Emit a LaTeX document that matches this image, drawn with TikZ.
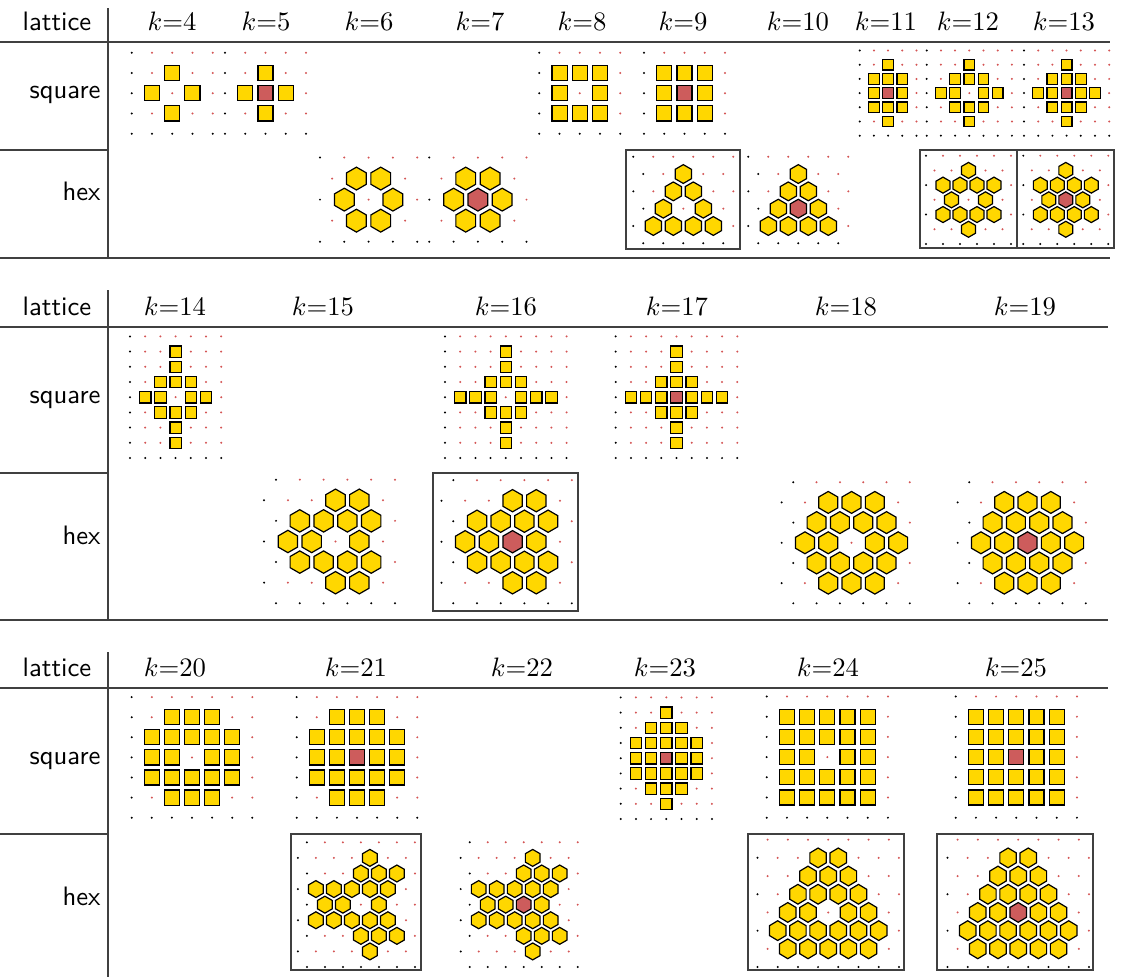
\documentclass[tikz,border=0pt]{standalone}
\usepackage{tikz}
\usetikzlibrary{positioning}

\definecolor{cellgold}{RGB}{255,215,0}
\definecolor{cellred}{RGB}{205,92,92}
\definecolor{dotred}{RGB}{212,85,85}

\tikzset{
  cellline/.style={draw=black, line width=0.45pt},
  rule/.style={line width=0.45pt, black!75},
  framebox/.style={draw=black!75, line width=0.55pt},
  lbl/.style={font=\sffamily, inner sep=0pt},
  klbl/.style={inner sep=0pt, anchor=base}
}

% one cell: origin (first dot of the bottom row) and dot spacing, in px
\newcommand{\cellat}[4][1]{\pgfmathsetmacro\cu{#4*0.375}\pgfmathsetmacro\cv{#1*#4*0.375}\begin{scope}[shift={(#2,#3)},x=\cu pt,y=\cv pt]}
\newcommand{\closecell}{\end{scope}}

% square lattice points, black on the axes
\newcommand{\sqdots}[2]{%
  \foreach \i in {0,...,#1}{\foreach \j in {0,...,#2}{%
    \ifnum\numexpr\i*\j\relax=0 \def\dc{black}\else\def\dc{dotred}\fi
    \fill[\dc] (\i,\j) circle[radius=0.42pt];}}}

% hex lattice points: xmin, xmax, top row, shift of odd rows
\newcommand{\hexdots}[4]{%
  \foreach \j in {0,...,#3}{%
    \pgfmathsetmacro\off{mod(\j,2)*(#4)}%
    \foreach \i in {-1,...,8}{%
      \pgfmathsetmacro\xx{\i+\off}%
      \pgfmathtruncatemacro\ok{and(\xx>#1-0.01,\xx<#2+0.01)}%
      \ifnum\ok=1
        \pgfmathtruncatemacro\blk{or(\j==0,\xx<0.1)}%
        \ifnum\blk=1 \def\dc{black}\else\def\dc{dotred}\fi
        \fill[\dc] (\xx,\j*0.866) circle[radius=0.42pt];
      \fi}}}

\newcommand{\sq}[3][cellgold]{\draw[cellline,fill=#1] (#2,#3) +(-0.375,-0.375) rectangle +(0.375,0.375);}
\newcommand{\hx}[3][cellgold]{\draw[cellline,fill=#1] (#2,#3*0.866) +(90:0.47) -- +(150:0.47) -- +(210:0.47) -- +(270:0.47) -- +(330:0.47) -- +(30:0.47) -- cycle;}

\begin{document}
\begin{tikzpicture}[x=0.375pt, y=-0.375pt]
\useasboundingbox (0,0) rectangle (1122,977);

% table rules
\draw[rule] (108,8) -- (108,258) (0,42) -- (1110,42) (0,150) -- (108,150) (0,258) -- (1110,258);
\draw[rule] (108,290) -- (108,620) (0,327) -- (1108,327) (0,473) -- (108,473) (0,620) -- (1108,620);
\draw[rule] (108,652) -- (108,977) (0,688) -- (1108,688) (0,834) -- (108,834);

% headers
\node[klbl, lbl] (lat1) at (57,30) {lattice};
\node[klbl, lbl] (lat2) at (57,315) {lattice};
\node[klbl, lbl] (lat3) at (57,676) {lattice};
\foreach \x/\k in {172/4, 266/5, 369/6, 480/7, 582/8, 683/9, 798/10, 886/11, 968/12, 1064/13}
  \node[klbl] (k\k) at (\x,30) {$k{=}\k$};
\foreach \x/\k in {175/14, 323/15, 506/16, 677/17, 846/18, 1025/19}
  \node[klbl] (k\k) at (\x,315) {$k{=}\k$};
\foreach \x/\k in {175/20, 356/21, 522/22, 665/23, 828/24, 1016/25}
  \node[klbl] (k\k) at (\x,676) {$k{=}\k$};
\foreach \y/\b in {98/1, 403/2, 764/3}
  \node[lbl, anchor=base east] (sq\b) at (101,\y) {square};
\foreach \y/\b in {200/1, 544/2, 905/3}
  \node[lbl, anchor=base east] (hex\b) at (101,\y) {hex};

% boxed cells
\draw[framebox] (626,150) rectangle (740,249) (920,150) rectangle (1017,248) (1017,150) rectangle (1114,248);
\draw[framebox] (433,473) rectangle (578,611);
\draw[framebox] (291,834) rectangle (421,970) (748,834) rectangle (904,970) (937,834) rectangle (1093,970);

%% block 1, square
\cellat{131.7}{133.7}{20.25} \sqdots{4}{4}
  \foreach \p/\q in {2/3,1/2,3/2,2/1} \sq{\p}{\q}; \closecell
\cellat{225}{133.7}{20.25} \sqdots{4}{4}
  \foreach \p/\q in {2/3,1/2,3/2,2/1} \sq{\p}{\q}; \sq[cellred]{2}{2} \closecell
\cellat{539.3}{133.7}{20.25} \sqdots{4}{4}
  \foreach \p/\q in {1/1,2/1,3/1,1/2,3/2,1/3,2/3,3/3} \sq{\p}{\q}; \closecell
\cellat{644}{133.7}{20.25} \sqdots{4}{4}
  \foreach \p/\q in {1/1,2/1,3/1,1/2,3/2,1/3,2/3,3/3} \sq{\p}{\q}; \sq[cellred]{2}{2} \closecell
\cellat{859.7}{135.7}{14.2} \sqdots{4}{6}
  \foreach \p/\q in {2/5,1/4,2/4,3/4,1/3,3/3,1/2,2/2,3/2,2/1} \sq{\p}{\q}; \sq[cellred]{2}{3} \closecell
\cellat{926.7}{135.7}{14.2} \sqdots{6}{6}
  \foreach \p/\q in {3/5,2/4,3/4,4/4,1/3,2/3,4/3,5/3,2/2,3/2,4/2,3/1} \sq{\p}{\q}; \closecell
\cellat{1024}{135.7}{14.2} \sqdots{6}{6}
  \foreach \p/\q in {3/5,2/4,3/4,4/4,1/3,2/3,4/3,5/3,2/2,3/2,4/2,3/1} \sq{\p}{\q}; \sq[cellred]{3}{3} \closecell

%% block 1, hex
\cellat{320}{241.7}{24.3} \hexdots{0}{4}{4}{0.5}
  \foreach \p/\q in {1/2,3/2,1.5/3,2.5/3,1.5/1,2.5/1} \hx{\p}{\q}; \closecell
\cellat{429.3}{241.7}{24.3} \hexdots{0}{4}{4}{0.5}
  \foreach \p/\q in {1/2,3/2,1.5/3,2.5/3,1.5/1,2.5/1} \hx{\p}{\q}; \hx[cellred]{2}{2} \closecell
\cellat{643.3}{243.3}{20} \hexdots{-0.5}{4.5}{5}{-0.5}
  \foreach \p/\q in {2/4,1.5/3,2.5/3,1/2,3/2,0.5/1,1.5/1,2.5/1,3.5/1} \hx{\p}{\q}; \closecell
\cellat{758.3}{243.3}{20} \hexdots{-0.5}{4.5}{5}{-0.5}
  \foreach \p/\q in {2/4,1.5/3,2.5/3,1/2,3/2,0.5/1,1.5/1,2.5/1,3.5/1} \hx{\p}{\q}; \hx[cellred]{2}{2} \closecell
\cellat{926}{244}{17} \hexdots{0}{5}{6}{0.5}
  \foreach \p/\q in {2.5/5,1/4,2/4,3/4,4/4,1.5/3,3.5/3,1/2,2/2,3/2,4/2,2.5/1} \hx{\p}{\q}; \closecell
\cellat{1023.3}{244}{17} \hexdots{0}{5}{6}{0.5}
  \foreach \p/\q in {2.5/5,1/4,2/4,3/4,4/4,1.5/3,3.5/3,1/2,2/2,3/2,4/2,2.5/1} \hx{\p}{\q}; \hx[cellred]{2.5}{3} \closecell

%% block 2, square
\cellat{130}{458}{15.2} \sqdots{6}{8}
  \foreach \p/\q in {3/7,3/6,2/5,3/5,4/5,1/4,2/4,4/4,5/4,2/3,3/3,4/3,3/2,3/1} \sq{\p}{\q}; \closecell
\cellat{445}{458}{15.2} \sqdots{8}{8}
  \foreach \p/\q in {4/7,4/6,3/5,4/5,5/5,1/4,2/4,3/4,5/4,6/4,7/4,3/3,4/3,5/3,4/2,4/1} \sq{\p}{\q}; \closecell
\cellat{615.7}{458}{15.2} \sqdots{8}{8}
  \foreach \p/\q in {4/7,4/6,3/5,4/5,5/5,1/4,2/4,3/4,5/4,6/4,7/4,3/3,4/3,5/3,4/2,4/1} \sq{\p}{\q}; \sq[cellred]{4}{4} \closecell

%% block 2, hex
\cellat{276}{603.3}{23.8} \hexdots{-0.5}{5}{6}{-0.5}
  \foreach \p/\q in {2.5/5,3.5/5,1/4,2/4,3/4,4/4,0.5/3,1.5/3,3.5/3,1/2,2/2,3/2,4/2,2.5/1,3.5/1} \hx{\p}{\q}; \closecell
\cellat{453.3}{603.3}{23.7} \hexdots{-0.5}{5}{6}{-0.5}
  \foreach \p/\q in {2.5/5,3.5/5,1/4,2/4,3/4,4/4,0.5/3,1.5/3,3.5/3,1/2,2/2,3/2,4/2,2.5/1,3.5/1} \hx{\p}{\q}; \hx[cellred]{2.5}{3} \closecell
\cellat{793.3}{603.3}{23.3} \hexdots{-0.5}{5}{6}{-0.5}
  \foreach \p/\q in {1.5/5,2.5/5,3.5/5,1/4,2/4,3/4,4/4,0.5/3,1.5/3,3.5/3,4.5/3,1/2,2/2,3/2,4/2,1.5/1,2.5/1,3.5/1} \hx{\p}{\q}; \closecell
\cellat{969.3}{603.3}{23.3} \hexdots{-0.5}{5}{6}{-0.5}
  \foreach \p/\q in {1.5/5,2.5/5,3.5/5,1/4,2/4,3/4,4/4,0.5/3,1.5/3,3.5/3,4.5/3,1/2,2/2,3/2,4/2,1.5/1,2.5/1,3.5/1} \hx{\p}{\q}; \hx[cellred]{2.5}{3} \closecell

%% block 3, square
\cellat{131.7}{817.7}{20.1} \sqdots{6}{6}
  \foreach \p/\q in {2/5,3/5,4/5,1/4,2/4,3/4,4/4,5/4,1/3,2/3,4/3,5/3,1/2,2/2,3/2,4/2,5/2,2/1,3/1,4/1} \sq{\p}{\q}; \closecell
\cellat{296.7}{817.7}{20.1} \sqdots{6}{6}
  \foreach \p/\q in {2/5,3/5,4/5,1/4,2/4,3/4,4/4,5/4,1/3,2/3,4/3,5/3,1/2,2/2,3/2,4/2,5/2,2/1,3/1,4/1} \sq{\p}{\q}; \sq[cellred]{3}{3} \closecell
\cellat{620.7}{819}{15.2} \sqdots{6}{8}
  \foreach \p/\q in {3/7,2/6,3/6,4/6,1/5,2/5,3/5,4/5,5/5,1/4,2/4,4/4,5/4,1/3,2/3,3/3,4/3,5/3,2/2,3/2,4/2,3/1} \sq{\p}{\q}; \sq[cellred]{3}{4} \closecell
\cellat{766.7}{817.7}{20.2} \sqdots{6}{6}
  \foreach \i in {1,...,5}{\foreach \j in {1,...,5}{\ifnum\i\j=33 \else\sq{\i}{\j}\fi}} \closecell
\cellat{955.7}{817.7}{20.2} \sqdots{6}{6}
  \foreach \i in {1,...,5}{\foreach \j in {1,...,5}{\ifnum\i\j=33 \else\sq{\i}{\j}\fi}} \sq[cellred]{3}{3} \closecell

%% block 3, hex
\cellat{306.9}{967}{18} \hexdots{-0.5}{6}{8}{-0.5}
  \foreach \p/\q in {3.5/7,3/6,4/6,5/6,0.5/5,1.5/5,2.5/5,3.5/5,4.5/5,1/4,2/4,4/4,0.5/3,1.5/3,2.5/3,3.5/3,4.5/3,3/2,4/2,5/2,3.5/1} \hx{\p}{\q}; \closecell
\cellat{469.7}{967}{18} \hexdots{-0.5}{6}{8}{-0.5}
  \foreach \p/\q in {3.5/7,3/6,4/6,5/6,0.5/5,1.5/5,2.5/5,3.5/5,4.5/5,1/4,2/4,4/4,0.5/3,1.5/3,2.5/3,3.5/3,4.5/3,3/2,4/2,5/2,3.5/1} \hx{\p}{\q}; \hx[cellred]{3}{4} \closecell
\cellat[1.04]{757.5}{967}{20.2} \hexdots{0}{7}{7}{0.5}
  \foreach \p/\q in {3/6,4/6,2.5/5,3.5/5,4.5/5,2/4,3/4,4/4,5/4,1.5/3,2.5/3,4.5/3,5.5/3,1/2,2/2,3/2,4/2,5/2,6/2,1.5/1,2.5/1,3.5/1,4.5/1,5.5/1} \hx{\p}{\q}; \closecell
\cellat[1.04]{947.5}{967}{20.2} \hexdots{0}{7}{7}{0.5}
  \foreach \p/\q in {3/6,4/6,2.5/5,3.5/5,4.5/5,2/4,3/4,4/4,5/4,1.5/3,2.5/3,4.5/3,5.5/3,1/2,2/2,3/2,4/2,5/2,6/2,1.5/1,2.5/1,3.5/1,4.5/1,5.5/1} \hx{\p}{\q}; \hx[cellred]{3.5}{3} \closecell

\end{tikzpicture}
\end{document}
